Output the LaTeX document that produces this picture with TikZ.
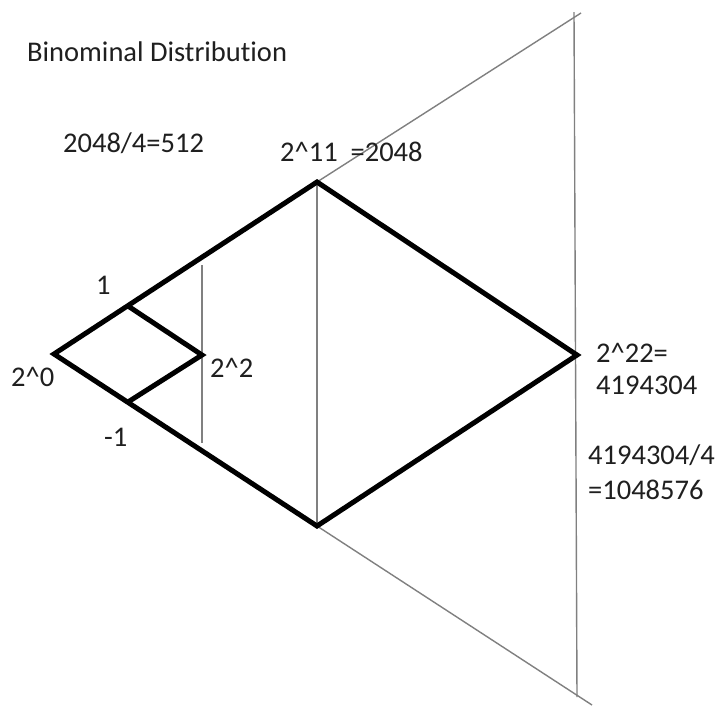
\documentclass[tikz,border=0pt]{standalone}
\usepackage{fontspec}
\setmainfont[Ligatures=NoCommon]{Carlito}
\begin{document}
\begin{tikzpicture}[x=1pt,y=-1pt,
  thickline/.style={line width=5pt, line join=miter, line cap=butt},
  thinline/.style={line width=1.4pt, color=black!50},
  lbl/.style={anchor=west, inner sep=0pt, font=\fontsize{28.5}{32}\selectfont, text=black!88}]
\useasboundingbox[fill=white] (0,0) rectangle (715,705);
% vertices
\coordinate (L) at (54,354);
\coordinate (T) at (317,182);
\coordinate (R) at (577,355);
\coordinate (B) at (317,526);
\coordinate (st) at (128,306);
\coordinate (sr) at (202,355);
\coordinate (sb) at (128,402);
\coordinate (ut) at (581,13);
\coordinate (lb) at (592,705);
\coordinate (vt) at (574,12);
\coordinate (vb) at (577,697);
\coordinate (mt) at (202,265);
\coordinate (mb) at (202,443);
% thin lines
\draw[thinline] (T) -- (ut);
\draw[thinline] (B) -- (lb);
\draw[thinline] (vt) -- (vb);
\draw[thinline] (T) -- (B);
\draw[thinline] (mt) -- (mb);
% thick diamonds
\draw[thickline] (L) -- (T) -- (R) -- (B) -- cycle;
\draw[thickline] (st) -- (sr) -- (sb);
% labels
\node[lbl] (title) at (27,52) {Binominal Distribution};
\node[lbl] (q1) at (63,143) {2048/4=512};
\node[lbl] (p11) at (280,152) {2\textasciicircum 11\ \ =2048};
\node[lbl] (one) at (96,285) {1};
\node[lbl] (p0) at (11,377) {2\textasciicircum 0};
\node[lbl] (p2) at (210,368) {2\textasciicircum 2};
\node[lbl] (mone) at (104,437) {-1};
\node[lbl] (p22a) at (596,353) {2\textasciicircum 22=};
\node[lbl] (p22b) at (596,385) {4194304};
\node[lbl] (q2a) at (588,455) {4194304/4};
\node[lbl] (q2b) at (588,490) {=1048576};
\end{tikzpicture}
\end{document}
